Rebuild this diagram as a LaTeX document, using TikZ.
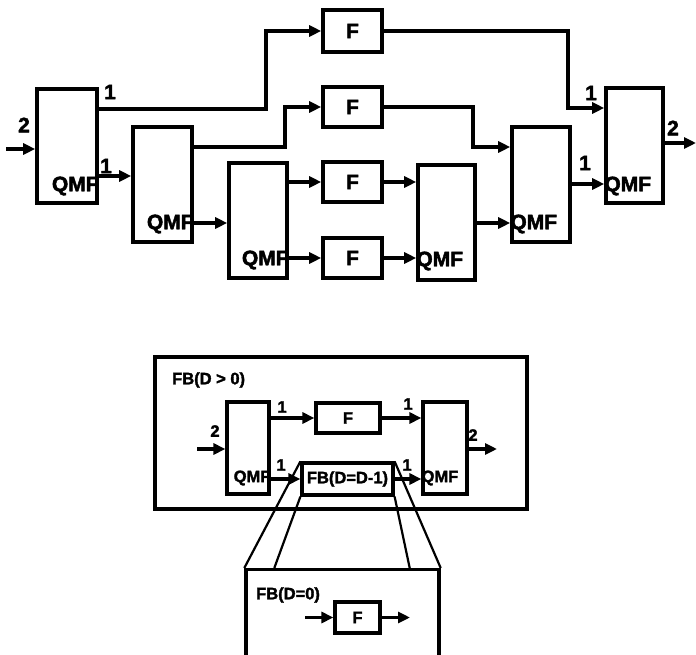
\documentclass[tikz,border=0pt]{standalone}
\usepackage{fontspec}
\setmainfont{Liberation Sans}[BoldFeatures={FakeBold=2}]
\usetikzlibrary{arrows.meta}
\begin{document}
\begin{tikzpicture}[x=1pt,y=-1pt,
  bx/.style={draw,line width=3.6pt,inner sep=0pt,minimum width=59pt,minimum height=40pt,font=\fontsize{21}{21}\selectfont\bfseries},
  qbox/.style={draw,line width=3.6pt,inner sep=0pt,minimum width=58pt,minimum height=115pt},
  sbx/.style={draw,line width=3.2pt,inner sep=0pt,font=\fontsize{16.5}{16.5}\selectfont\bfseries},
  lab/.style={inner sep=0pt,font=\fontsize{21}{21}\selectfont\bfseries},
  slab/.style={inner sep=0pt,font=\fontsize{16.5}{16.5}\selectfont\bfseries},
  arr/.style={line width=3.2pt,-{Triangle[length=12pt,width=11pt]}},
  zl/.style={line width=2.2pt}]
\clip (0,0) rectangle (696,655);
\fill[white] (0,0) rectangle (696,655);
% ---- top diagram ----
\node[qbox,minimum width=60pt,minimum height=114pt] (q1) at (67,146) {};
\node[qbox,minimum width=59pt] (q2) at (162.5,184.5) {};
\node[qbox] (q3) at (258,220.5) {};
\node[qbox,minimum width=57pt] (q4) at (446.5,222.5) {};
\node[qbox] (q5) at (541,184.5) {};
\node[qbox,minimum width=57pt] (q6) at (634.5,145.5) {};
\node[bx,minimum height=42pt] (f1) at (352.5,31) {F};
\node[bx] (f2) at (352.5,107) {F};
\node[bx] (f3) at (352.5,182) {F};
\node[bx] (f4) at (352.5,258) {F};
\node[lab,anchor=east] at (q1.east |- 0,186) {QMF};
\node[lab,anchor=east] at (q2.east |- 0,224) {QMF};
\node[lab,anchor=east] at (q3.east |- 0,260) {QMF};
\node[lab,anchor=west] at (q4.west |- 0,261) {QMF};
\node[lab,anchor=west] at (q5.west |- 0,224) {QMF};
\node[lab,anchor=west] at (q6.west |- 0,186) {QMF};
\coordinate (in1) at (6,149);
\coordinate (out1) at (696,143);
\draw[arr] (in1) -- (in1 -| q1.west);
\draw[arr] (q1.east |- 0,109) -- (266,109) |- (f1.west);
\draw[arr] (q1.east |- 0,176) -- (q2.west |- 0,176);
\draw[arr] (q2.east |- 0,147) -- (285,147) |- (f2.west);
\draw[arr] (q2.east |- 0,223) -- (q3.west |- 0,223);
\draw[arr] (q3.east |- f3) -- (f3.west);
\draw[arr] (q3.east |- f4) -- (f4.west);
\draw[arr] (f3.east) -- (q4.west |- f3);
\draw[arr] (f4.east) -- (q4.west |- f4);
\draw[arr] (q4.east |- 0,223) -- (q5.west |- 0,223);
\draw[arr] (f2.east) -| (473,147) -- (q5.west |- 0,147);
\draw[arr] (f1.east) -| (568,108) -- (q6.west |- 0,108);
\draw[arr] (q5.east |- 0,184) -- (q6.west |- 0,184);
\draw[arr] (q6.east |- out1) -- (out1);
\node[lab] at (24,125) {2};
\node[lab] at (110,92) {1};
\node[lab] at (106,166) {1};
\node[lab] at (591,93) {1};
\node[lab] at (585,163) {1};
\node[lab] at (673,128) {2};
% ---- bottom diagram ----
\node[draw,line width=3.4pt,minimum width=372pt,minimum height=152pt,inner sep=0pt] (fbo) at (341,433) {};
\node[slab,anchor=west] at (172,380) {FB(D > 0)};
\node[sbx,minimum width=42pt,minimum height=92pt] (qa) at (248,448) {};
\node[sbx,minimum width=44pt,minimum height=92pt] (qb) at (445,448) {};
\node[sbx,minimum width=64pt,minimum height=30pt] (fb) at (348,418) {F};
\node[sbx,minimum width=91pt,minimum height=32pt] (fbr) at (347.5,479) {FB(D=D-1)};
\node[slab,anchor=east] at (qa.east |- 0,478) {QMF};
\node[slab,anchor=west] at (qb.west |- 0,478) {QMF};
\coordinate (in2) at (197,449);
\coordinate (out2) at (497,449);
\draw[arr] (in2) -- (in2 -| qa.west);
\draw[arr] (qa.east |- fb) -- (fb.west);
\draw[arr] (fb.east) -- (qb.west |- fb);
\draw[arr] (qa.east |- fbr) -- (fbr.west);
\draw[arr] (fbr.east) -- (qb.west |- fbr);
\draw[arr] (qb.east |- out2) -- (out2);
\node[slab] at (215,431) {2};
\node[slab] at (282,407) {1};
\node[slab] at (408,404) {1};
\node[slab] at (281,465) {1};
\node[slab] at (407,465) {1};
\node[slab] at (473,435) {2};
% ---- zoomed inner box ----
\node[draw,line width=3.4pt,minimum width=193pt,minimum height=120pt,inner sep=0pt,anchor=north] (fbz) at (342.5,568) {};
\draw[zl] (fbr.north west) -- (fbz.north west);
\draw[zl] (fbr.south west) -- ([xshift=30pt]fbz.north west);
\draw[zl] (fbr.south east) -- ([xshift=-31pt]fbz.north east);
\draw[zl] (fbr.north east) -- (fbz.north east);
\node[slab,anchor=west] at (256,595) {FB(D=0)};
\node[sbx,minimum width=45pt,minimum height=31pt] (fz) at (357.5,617.5) {F};
\coordinate (in3) at (305,617.5);
\coordinate (out3) at (410,617.5);
\draw[arr] (in3) -- (fz.west);
\draw[arr] (fz.east) -- (out3);
\end{tikzpicture}
\end{document}
